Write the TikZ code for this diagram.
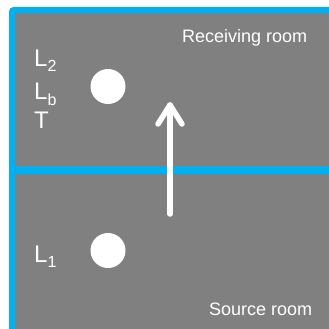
\documentclass[tikz,border=0pt]{standalone}
\usepackage{fontspec}
\setmainfont{Liberation Sans}
\definecolor{roomgray}{HTML}{808080}
\definecolor{wallblue}{HTML}{00B0F0}
\tikzset{
  lbl/.style={text=white, inner sep=0pt, anchor=base west},
  src/.style={circle, fill=white, minimum size=35pt, inner sep=0pt},
  wall/.style={draw=wallblue, line width=6pt},
  flow/.style={draw=white, line width=5.5pt, line cap=round, line join=round}
}
\newcommand{\bigL}[1]{{\fontsize{24}{28}\selectfont L\raisebox{-5.5pt}{\fontsize{16}{18}\selectfont #1}}}
\begin{document}
\begin{tikzpicture}[x=1pt,y=-1pt]
\useasboundingbox (0,0) rectangle (329,329);
\fill[white] (0,0) rectangle (329,329);
\fill[roomgray] (12,10) rectangle (329,329);
\draw[wall, rounded corners=2pt] (12,329) -- (12,10) -- (329,10);
\draw[draw=wallblue, line width=8pt] (15,170) -- (329,170);
\node[src] (recv) at (108,86.5) {};
\node[src] (send) at (108,250.5) {};
\coordinate (tail) at (170,214);
\coordinate (head) at (170,105);
\draw[flow] (tail) -- (head);
\draw[flow] ([xshift=-12pt,yshift=-19pt]head) -- (head) -- ([xshift=12pt,yshift=-19pt]head);
\node[lbl] (ltwo) at (34,66.5) {\bigL{2}};
\node[lbl] (lb) at (34,99.5) {\bigL{b}};
\node[lbl] (t) at (34,128.5) {\fontsize{24}{28}\selectfont T};
\node[lbl] (lone) at (34,262) {\bigL{1}};
\node[lbl] (rr) at (182,42.5) {\fontsize{18}{22}\selectfont Receiving room};
\node[lbl] (sr) at (209,315) {\fontsize{18}{22}\selectfont Source room};
\end{tikzpicture}
\end{document}
